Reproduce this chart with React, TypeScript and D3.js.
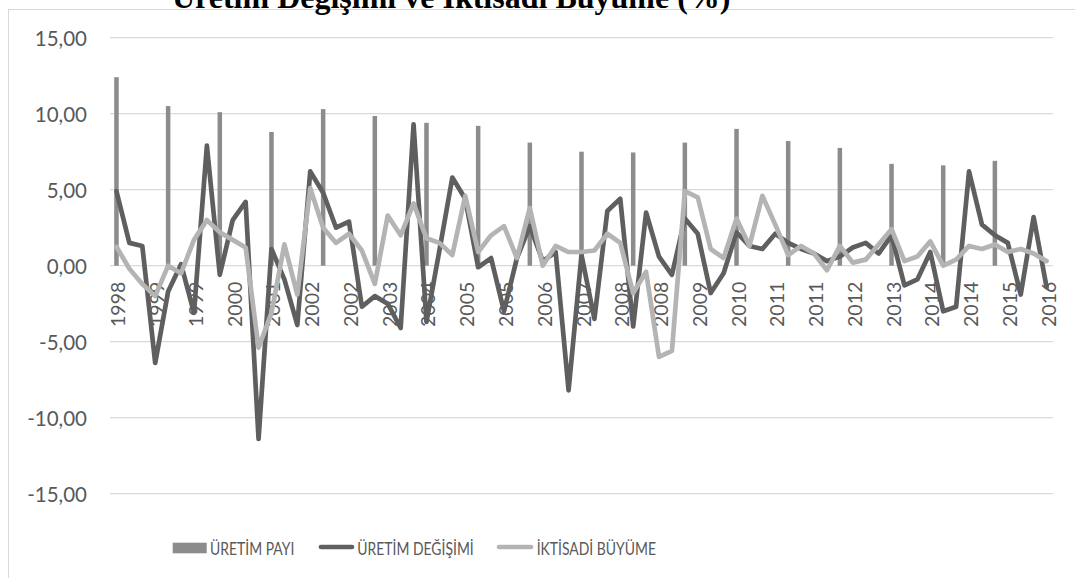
import React from "react";
import * as d3 from "d3";

const categories: string[] = [
  "1998", "1998", "1998",
  "1999", "1999", "1999", "1999",
  "2000", "2000", "2000", "2000",
  "2001", "2001", "2001", "2001",
  "2002", "2002", "2002", "2002",
  "2003", "2003", "2003", "2003",
  "2004", "2004", "2004", "2004",
  "2005", "2005", "2005", "2005",
  "2006", "2006", "2006", "2006",
  "2007", "2007", "2007", "2007",
  "2008", "2008", "2008", "2008",
  "2009", "2009", "2009", "2009",
  "2010", "2010", "2010", "2010",
  "2011", "2011", "2011", "2011",
  "2012", "2012", "2012", "2012",
  "2013", "2013", "2013", "2013",
  "2014", "2014", "2014", "2014",
  "2015", "2015", "2015", "2015",
  "2016", "2016",
];

// annual bars: one value per year, placed at every 4th category
const uretimPayi: number[] = [
  12.4, 10.5, 10.1, 8.8, 10.3, 9.85, 9.4, 9.2, 8.1, 7.5, 7.45, 8.1, 9.0, 8.2, 7.75, 6.7, 6.6, 6.9,
];

const uretimDegisimi: number[] = [
  4.9, 1.5, 1.3, -6.4, -1.7, 0.1, -3.1, 7.9, -0.6, 3.0, 4.2, -11.4, 1.1, -0.9, -3.9, 6.2,
  4.8, 2.5, 2.9, -2.7, -2.0, -2.5, -4.1, 9.3, -3.7, 1.0, 5.8, 4.4, -0.1, 0.5, -3.0, 0.5,
  2.6, 0.3, 0.9, -8.2, 0.7, -3.5, 3.6, 4.4, -4.0, 3.5, 0.6, -0.6, 3.1, 2.1, -1.8, -0.5,
  2.2, 1.3, 1.1, 2.1, 1.5, 1.1, 0.8, 0.3, 0.6, 1.2, 1.5, 0.8, 2.0, -1.3, -0.9, 0.9,
  -3.0, -2.7, 6.2, 2.7, 2.0, 1.5, -1.9, 3.2, -1.4,
];

const iktisadiBuyume: number[] = [
  1.25, -0.2, -1.2, -2.0, 0.0, -0.5, 1.7, 3.0, 2.2, 1.7, 1.2, -5.4, -3.1, 1.4, -1.9, 5.1,
  2.5, 1.5, 2.1, 1.0, -1.2, 3.3, 2.0, 4.1, 1.8, 1.5, 0.7, 4.6, 0.9, 2.0, 2.6, 0.5,
  3.8, 0.0, 1.3, 0.9, 0.9, 1.0, 2.1, 1.5, -1.8, -0.4, -6.0, -5.6, 4.9, 4.5, 1.1, 0.5,
  3.1, 1.3, 4.6, 2.7, 0.7, 1.3, 0.8, -0.3, 1.3, 0.2, 0.4, 1.4, 2.4, 0.3, 0.6, 1.6,
  0.0, 0.4, 1.3, 1.1, 1.4, 0.9, 1.1, 0.8, 0.3,
];

const yTicks: number[] = [15, 10, 5, 0, -5, -10, -15];
const legendLabels: string[] = ["ÜRETİM PAYI", "ÜRETİM DEĞİŞİMİ", "İKTİSADİ BÜYÜME"];
const title = "Üretim Değişimi ve İktisadi Büyüme (%)";

const W = 1075;
const H = 578;
const plot = { left: 110, right: 1053, top: 37.7, bottom: 493.7 };
const C_BAR = "#8c8c8c";
const C_DARK = "#5f5f5f";
const C_LIGHT = "#b4b4b4";
const C_GRID = "#d9d9d9";
const C_TEXT = "#595959";
const FONT = "Lato, 'Open Sans', sans-serif";

export default function App() {
  const x = d3
    .scaleBand<number>()
    .domain(categories.map((_, i) => i))
    .range([plot.left, plot.right])
    .padding(0);
  const cx = (i: number) => (x(i) as number) + x.bandwidth() / 2;
  const y = d3.scaleLinear().domain([-15, 15]).range([plot.bottom, plot.top]);

  const line = d3
    .line<number>()
    .x((_, i) => cx(i))
    .y((d) => y(d));

  const barW = 4.5;
  const fmt = (v: number) => v.toFixed(2).replace(".", ",");

  const legendText = (label: string, x0: number) => (
    <text
      transform={`translate(${x0},548) scale(0.82,1)`}
      dominantBaseline="central"
      fontFamily={FONT}
      fontSize={17}
      fill={C_TEXT}
    >
      {label}
    </text>
  );

  return (
    <svg
      width={W}
      height={H}
      style={{ position: "absolute", left: 0, top: 0, background: "#fff" }}
    >
      <rect x={8.5} y={9.5} width={W + 20} height={H + 20} fill="none" stroke={C_GRID} strokeWidth={1} />
      <text
        x={172}
        y={8}
        fontFamily="'Liberation Serif', 'DejaVu Serif', serif"
        fontWeight="bold"
        fontSize={32}
        fill="#000"
      >
        {title}
      </text>

      {yTicks.map((t) => (
        <g key={t}>
          <line x1={plot.left} x2={plot.right} y1={y(t)} y2={y(t)} stroke={C_GRID} strokeWidth={1.3} />
          <text
            x={87}
            y={y(t)}
            textAnchor="end"
            dominantBaseline="central"
            fontFamily={FONT}
            fontSize={20.5}
            fill={C_TEXT}
          >
            {fmt(t)}
          </text>
        </g>
      ))}

      {uretimPayi.map((v, k) => {
        const i = k * 4;
        return (
          <rect
            key={k}
            x={cx(i) - barW / 2}
            y={y(Math.max(v, 0))}
            width={barW}
            height={Math.abs(y(v) - y(0))}
            fill={C_BAR}
          />
        );
      })}

      {categories.map((c, i) =>
        i % 3 === 0 ? (
          <text
            key={i}
            transform={`translate(${cx(i) + 1.5},${y(0) + 16}) rotate(-90)`}
            textAnchor="end"
            dominantBaseline="central"
            fontFamily={FONT}
            fontSize={19.5}
            fill={C_TEXT}
          >
            {c}
          </text>
        ) : null
      )}

      <path
        d={line(uretimDegisimi) || ""}
        fill="none"
        stroke={C_DARK}
        strokeWidth={4.7}
        strokeLinejoin="round"
        strokeLinecap="round"
      />
      <path
        d={line(iktisadiBuyume) || ""}
        fill="none"
        stroke={C_LIGHT}
        strokeWidth={4.7}
        strokeLinejoin="round"
        strokeLinecap="round"
      />

      <rect x={172.7} y={542.7} width={34} height={10.6} fill={C_BAR} />
      {legendText(legendLabels[0], 210)}
      <line x1={321} x2={352} y1={547} y2={547} stroke={C_DARK} strokeWidth={4.7} strokeLinecap="round" />
      {legendText(legendLabels[1], 357.3)}
      <line x1={499} x2={531} y1={547} y2={547} stroke={C_LIGHT} strokeWidth={4.7} strokeLinecap="round" />
      {legendText(legendLabels[2], 536.7)}
    </svg>
  );
}
